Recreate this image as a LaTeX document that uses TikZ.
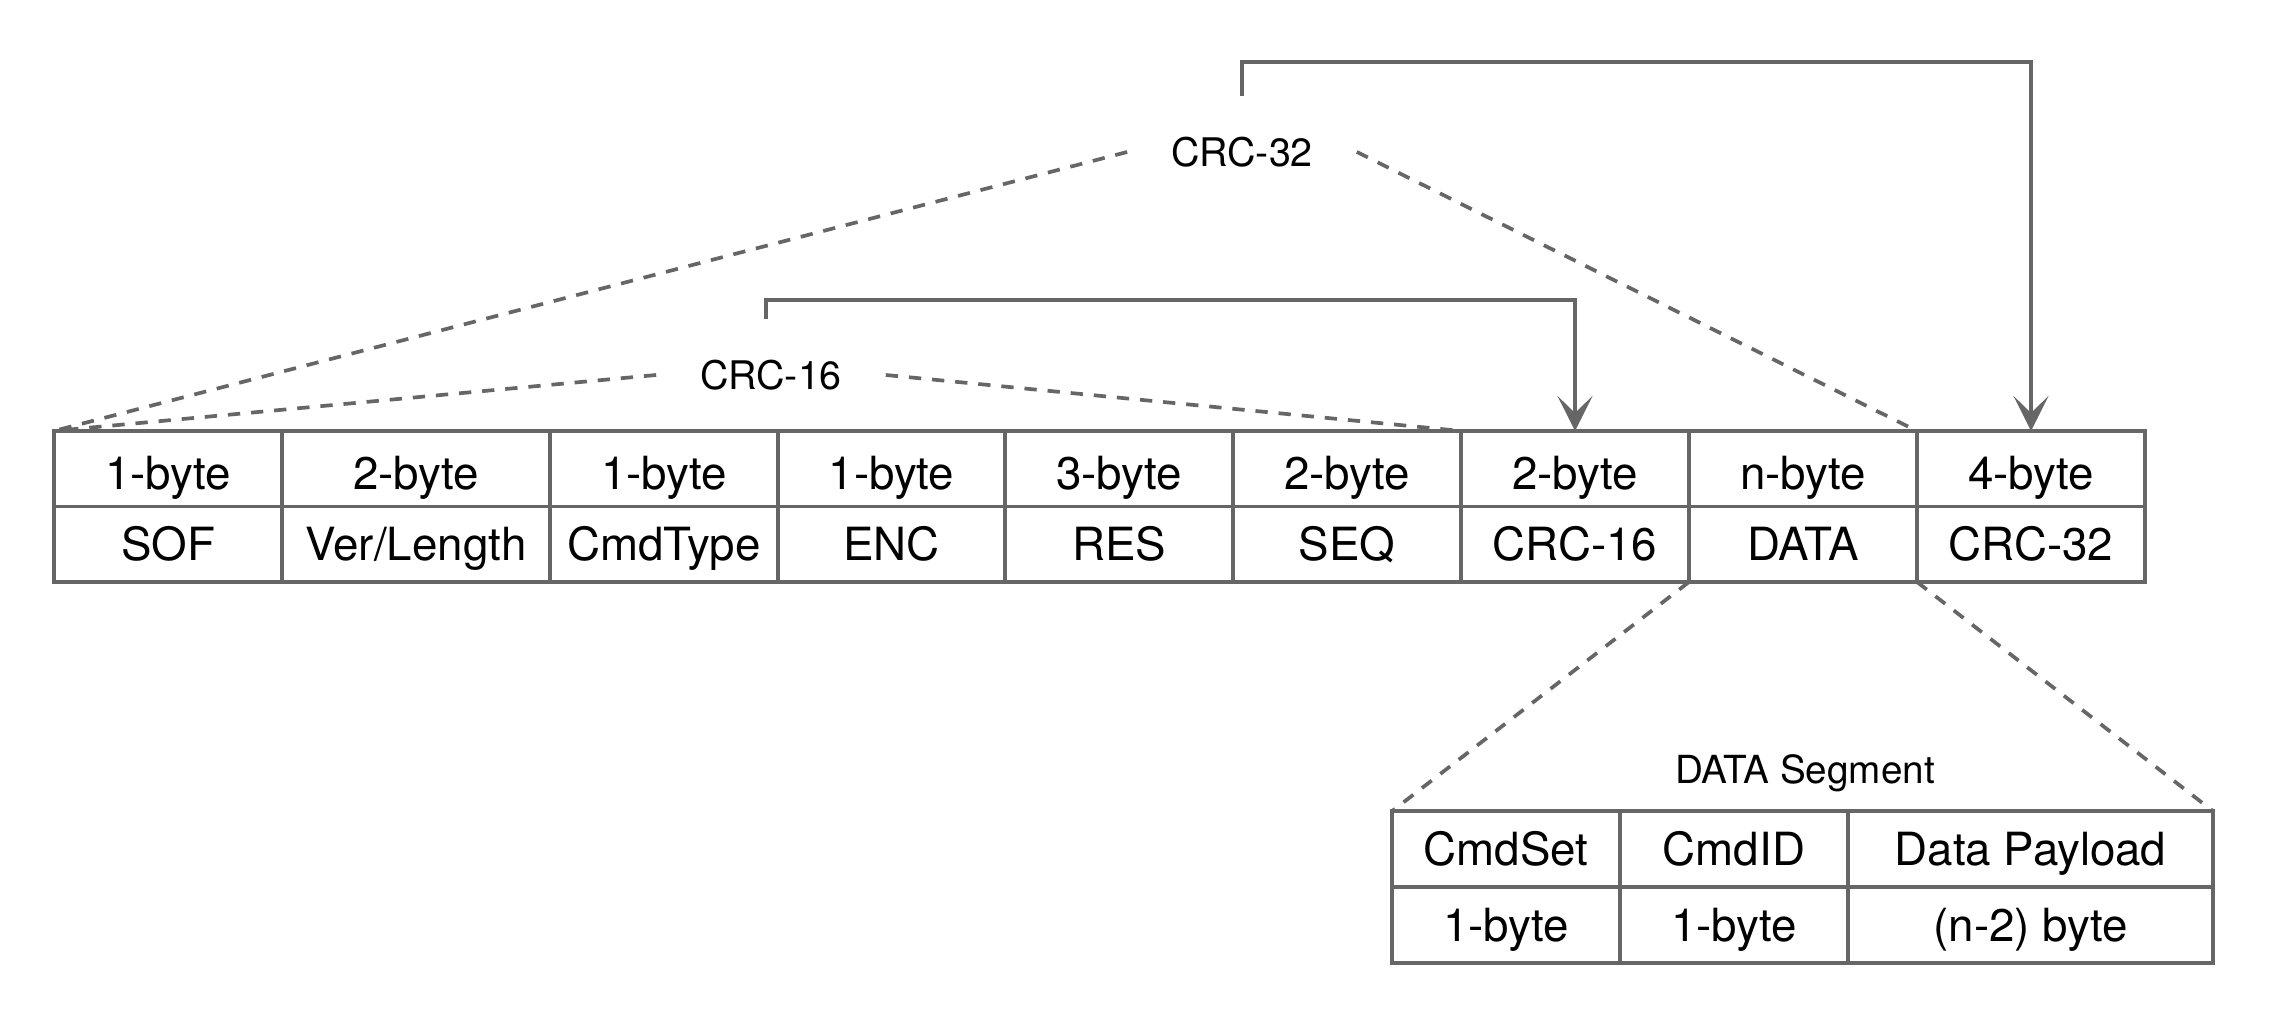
\documentclass[tikz,border=0pt]{standalone}
\usepackage{fontspec}
\setmainfont{TeX Gyre Heros}
\usetikzlibrary{arrows.meta}
\definecolor{lc}{HTML}{666666}
\begin{document}
\begin{tikzpicture}[x=0.01cm,y=-0.01cm,
  cell/.style={draw=lc, line width=1pt, minimum width=#1, minimum height=0.755cm,
    inner sep=0pt, outer sep=0pt, font=\fontsize{13}{15}\selectfont,
    text height=9.3pt, text depth=0pt, anchor=center},
  topcell/.style={cell=#1, text height=11.6pt},
  lab/.style={font=\fontsize{11.2}{13}\selectfont, inner xsep=0.44cm, inner ysep=0.42cm,
    text height=8.1pt, text depth=0pt, outer sep=0pt},
  conn/.style={draw=lc, line width=1pt, -{Stealth[length=0.35cm,width=0.35cm,inset=0.17cm]}},
  dline/.style={draw=lc, line width=1.05pt, dash pattern=on 3.5pt off 3.1pt}]
\fill[white] (0,0) rectangle (2278,1016);
\useasboundingbox (0,0) rectangle (2278,1016);

% main table, top row
\node[topcell=2.28cm] (a1) at (168,468.75) {1-byte};
\node[topcell=2.68cm] (a2) at (416,468.75) {2-byte};
\node[topcell=2.28cm] (a3) at (664,468.75) {1-byte};
\node[topcell=2.27cm] (a4) at (891.5,468.75) {1-byte};
\node[topcell=2.28cm] (a5) at (1119,468.75) {3-byte};
\node[topcell=2.28cm] (a6) at (1347,468.75) {2-byte};
\node[topcell=2.28cm] (a7) at (1575,468.75) {2-byte};
\node[topcell=2.28cm] (a8) at (1803,468.75) {n-byte};
\node[topcell=2.28cm] (a9) at (2031,468.75) {4-byte};
% main table, bottom row
\node[cell=2.28cm] (b1) at (168,544.25) {SOF};
\node[cell=2.68cm] (b2) at (416,544.25) {Ver/Length};
\node[cell=2.28cm] (b3) at (664,544.25) {CmdType};
\node[cell=2.27cm] (b4) at (891.5,544.25) {ENC};
\node[cell=2.28cm] (b5) at (1119,544.25) {RES};
\node[cell=2.28cm] (b6) at (1347,544.25) {SEQ};
\node[cell=2.28cm] (b7) at (1575,544.25) {CRC-16};
\node[cell=2.28cm] (b8) at (1803,544.25) {DATA};
\node[cell=2.28cm] (b9) at (2031,544.25) {CRC-32};

% data segment table
\node[cell=2.28cm] (s1) at (1506,849) {CmdSet};
\node[cell=2.28cm] (s2) at (1734,849) {CmdID};
\node[cell=3.65cm] (s3) at (2030.5,849) {Data Payload};
\node[cell=2.28cm] (p1) at (1506,925) {1-byte};
\node[cell=2.28cm] (p2) at (1734,925) {1-byte};
\node[cell=3.65cm] (p3) at (2030.5,925) {(n-2) byte};

% labels
\node[lab] (c32) at (1242,152) {CRC-32};
\node[lab] (c16) at (771,375) {CRC-16};
\node[lab, inner sep=0pt, font=\fontsize{11}{13}\selectfont] (dseg) at (1805,769) {DATA Segment};

% dashed scope lines
\draw[dline] (c32.west) -- (a1.north west);
\draw[dline] (c32.east) -- (a9.north west);
\draw[dline] (c16.west) -- (a1.north west);
\draw[dline] (c16.east) -- (a7.north west);
\draw[dline] (b8.south west) -- (s1.north west);
\draw[dline] (b8.south east) -- (s3.north east);

% checksum arrows
\coordinate (k16) at (766,300);
\coordinate (k32) at (1242,62);
\draw[conn] (k16 |- c16.north) -- (k16) -| (a7.north);
\draw[conn] (k32 |- c32.north) -- (k32) -| (a9.north);
\end{tikzpicture}
\end{document}
